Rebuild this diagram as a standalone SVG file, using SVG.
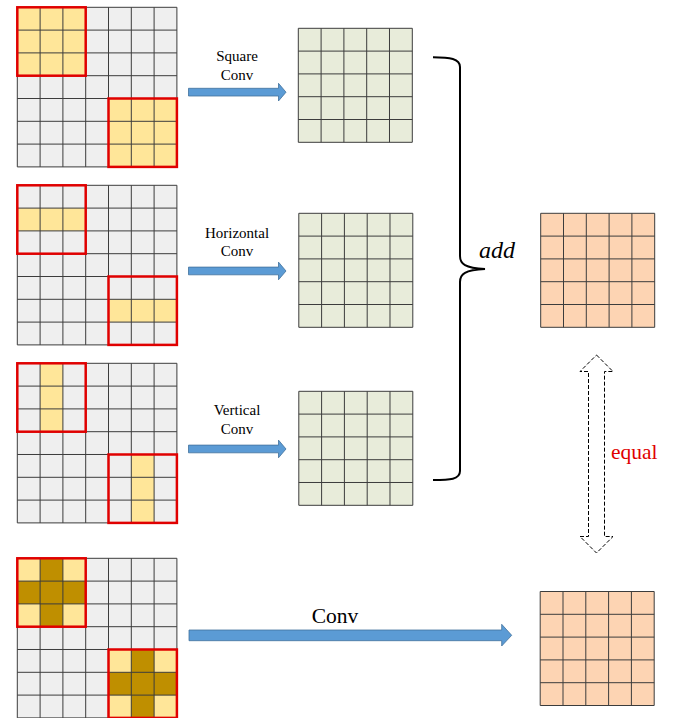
<svg xmlns="http://www.w3.org/2000/svg" width="673" height="718" viewBox="0 0 673 718">
<style>
.bg7{fill:#EFEFEF}
.yl{fill:#FFE699}
.dk{fill:#BF8F00}
.gl{fill:none;stroke:#3c3c3c;stroke-width:1}
.red{fill:none;stroke:#E00000;stroke-width:2.5}
.gr{fill:#E8ECDA}
.pc{fill:#FDD4B3}
.arr{fill:#5B9BD5;stroke:#41719C;stroke-width:0.8}
text{font-family:'Liberation Serif','Times New Roman','DejaVu Serif',serif}
.lbl{font-size:15px;fill:#000;text-anchor:middle}
</style>
<defs>
<path id="lines7" class="gl" d="M0,0V159.6M22.8,0V159.6M45.6,0V159.6M68.4,0V159.6M91.2,0V159.6M114,0V159.6M136.8,0V159.6M159.6,0V159.6M0,0H159.6M0,22.8H159.6M0,45.6H159.6M0,68.4H159.6M0,91.2H159.6M0,114H159.6M0,136.8H159.6M0,159.6H159.6"/>
<path id="lines5" class="gl" d="M0,0V114M22.8,0V114M45.6,0V114M68.4,0V114M91.2,0V114M114,0V114M0,0H114M0,22.8H114M0,45.6H114M0,68.4H114M0,91.2H114M0,114H114"/>
<path id="arrS" class="arr" d="M188.5,88.3H278.5V83.3L286,92.2L278.5,101V96H188.5Z"/>
</defs>

<g id="input-square" transform="translate(17.3,7.3)">
<rect class="bg7" width="159.6" height="159.6"/>
<rect class="yl" x="0" y="0" width="68.4" height="68.4"/>
<rect class="yl" x="91.2" y="91.2" width="68.4" height="68.4"/>
<use href="#lines7"/>
<rect class="red" x="0" y="0" width="68.4" height="68.4"/>
<rect class="red" x="91.2" y="91.2" width="68.4" height="68.4"/>
</g>

<g id="input-horizontal" transform="translate(17.3,185.3)">
<rect class="bg7" width="159.6" height="159.6"/>
<rect class="yl" x="0" y="22.8" width="68.4" height="22.8"/>
<rect class="yl" x="91.2" y="114" width="68.4" height="22.8"/>
<use href="#lines7"/>
<rect class="red" x="0" y="0" width="68.4" height="68.4"/>
<rect class="red" x="91.2" y="91.2" width="68.4" height="68.4"/>
</g>

<g id="input-vertical" transform="translate(17.3,363.3)">
<rect class="bg7" width="159.6" height="159.6"/>
<rect class="yl" x="22.8" y="0" width="22.8" height="68.4"/>
<rect class="yl" x="114" y="91.2" width="22.8" height="68.4"/>
<use href="#lines7"/>
<rect class="red" x="0" y="0" width="68.4" height="68.4"/>
<rect class="red" x="91.2" y="91.2" width="68.4" height="68.4"/>
</g>

<g id="input-cross" transform="translate(17.3,558.3)">
<rect class="bg7" width="159.6" height="159.6"/>
<rect class="yl" x="0" y="0" width="68.4" height="68.4"/>
<rect class="yl" x="91.2" y="91.2" width="68.4" height="68.4"/>
<rect class="dk" x="22.8" y="0" width="22.8" height="68.4"/>
<rect class="dk" x="0" y="22.8" width="68.4" height="22.8"/>
<rect class="dk" x="114" y="91.2" width="22.8" height="68.4"/>
<rect class="dk" x="91.2" y="114" width="68.4" height="22.8"/>
<use href="#lines7"/>
<rect class="red" x="0" y="0" width="68.4" height="68.4"/>
<rect class="red" x="91.2" y="91.2" width="68.4" height="68.4"/>
</g>

<g id="out-square" transform="translate(298.3,28.3)">
<rect class="gr" width="114" height="114"/>
<use href="#lines5"/>
</g>
<g id="out-horizontal" transform="translate(298.8,213.3)">
<rect class="gr" width="114" height="114"/>
<use href="#lines5"/>
</g>
<g id="out-vertical" transform="translate(298.8,391.3)">
<rect class="gr" width="114" height="114"/>
<use href="#lines5"/>
</g>

<g id="result-sum" transform="translate(540.7,213.3)">
<rect class="pc" width="114" height="114"/>
<use href="#lines5"/>
</g>
<g id="result-conv" transform="translate(540.2,591.5)">
<rect class="pc" width="114" height="114"/>
<use href="#lines5"/>
</g>

<g id="connectors">
<use href="#arrS"/>
<use href="#arrS" transform="translate(0,178.8)"/>
<use href="#arrS" transform="translate(0,356.8)"/>
<path class="arr" d="M189,630H501.7V624.3L511.7,635.3L501.7,646V640.7H189Z"/>
<path d="M433,57.3C450,57.3 460,58.5 460,67V256C460,264 465,268 485,269C465,270 460,274 460,282V471C460,479.5 450,480 433,480" fill="none" stroke="#000" stroke-width="2"/>
<path d="M596.5,355L613,371.5H604.5V536.5H613L596.5,553L580,536.5H588.5V371.5H580Z" fill="#fff" stroke="#000" stroke-width="1" stroke-dasharray="4,2"/>
</g>

<g id="labels">
<text class="lbl" x="237" y="61">Square</text>
<text class="lbl" x="237" y="80">Conv</text>
<text class="lbl" x="237" y="237.5">Horizontal</text>
<text class="lbl" x="237" y="256">Conv</text>
<text class="lbl" x="237" y="415">Vertical</text>
<text class="lbl" x="237" y="433.5">Conv</text>
<text class="lbl" x="335" y="623.3" style="font-size:21.5px">Conv</text>
<text x="479" y="257.7" font-size="24" font-style="italic">add</text>
<text x="611" y="459.3" font-size="21.5" fill="#E00000">equal</text>
</g>
</svg>
